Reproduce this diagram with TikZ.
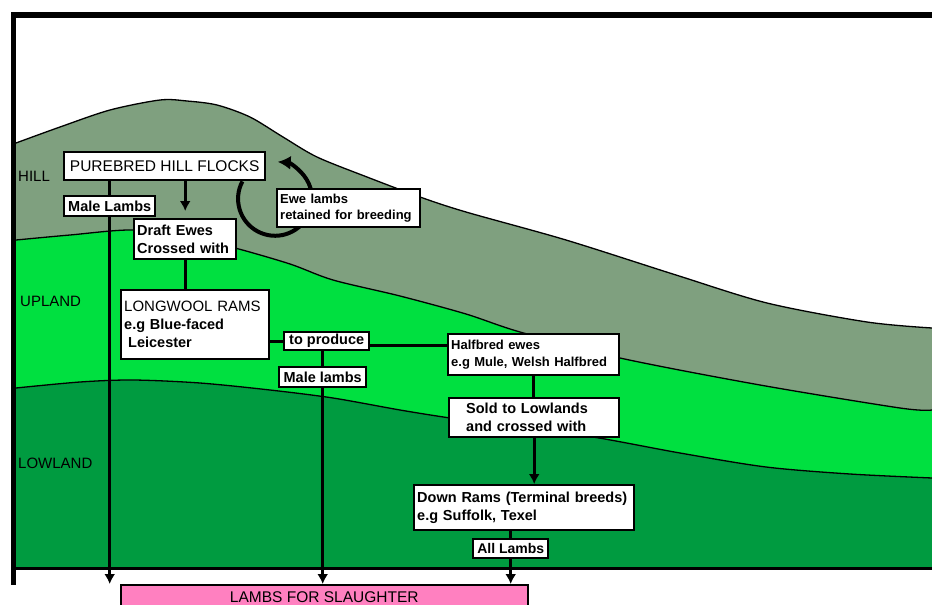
\documentclass[tikz,border=0pt]{standalone}
\usepackage{fontspec}
\setmainfont{Liberation Sans}
\usetikzlibrary{arrows,arrows.meta,positioning,calc}
\definecolor{hillgray}{RGB}{127,160,127}
\definecolor{upgreen}{RGB}{0,224,64}
\definecolor{lowgreen}{RGB}{0,155,64}
\definecolor{slpink}{RGB}{255,128,192}
\tikzstyle{box}=[draw,fill=white,line width=2.4pt,anchor=north west,align=left,inner xsep=3pt,inner ysep=1pt,font=\fontsize{14.5}{18}\selectfont\bfseries]
\tikzstyle{smallbox}=[box,font=\fontsize{13}{16.5}\selectfont\bfseries]
\tikzstyle{capsbox}=[box,font=\fontsize{15.5}{18}\selectfont]
\tikzstyle{zone}=[anchor=west,inner sep=0pt,font=\fontsize{15}{18}\selectfont]
\tikzstyle{ridge}=[line width=1.3pt]
\tikzstyle{link}=[line width=3.2pt]
\tikzstyle{flow}=[link,-{Latex[length=10pt,width=11pt]}]

\begin{document}
\begin{tikzpicture}[x=1pt,y=-1pt]
\useasboundingbox (0,0) rectangle (932,605);
\fill[white] (0,0) rectangle (932,605);

% land bands
\fill[hillgray] plot[smooth] coordinates {(16,143) (60,127) (110,110) (160,100) (187,101) (217,105) (250,117) (283,137) (317,157) (367,177) (420,197) (466,212) (566,240) (676,275) (767,303) (867,322) (932,328)} -- (932,568) -- (16,568) -- cycle;
\fill[upgreen] plot[smooth] coordinates {(16,240) (70,235) (133,230) (190,238) (235,248) (290,264) (333,280) (400,296) (466,314) (520,332) (620,358) (760,385) (900,408) (932,410)} -- (932,568) -- (16,568) -- cycle;
\fill[lowgreen] plot[smooth] coordinates {(16,388) (80,382) (133,380) (200,383) (270,390) (333,398) (400,410) (450,418) (520,428) (593,437) (680,453) (766,467) (850,474) (932,478)} -- (932,568) -- (16,568) -- cycle;
\draw[ridge] plot[smooth] coordinates {(16,143) (60,127) (110,110) (160,100) (187,101) (217,105) (250,117) (283,137) (317,157) (367,177) (420,197) (466,212) (566,240) (676,275) (767,303) (867,322) (932,328)};
\draw[ridge] plot[smooth] coordinates {(16,240) (70,235) (133,230) (190,238) (235,248) (290,264) (333,280) (400,296) (466,314) (520,332) (620,358) (760,385) (900,408) (932,410)};
\draw[ridge] plot[smooth] coordinates {(16,388) (80,382) (133,380) (200,383) (270,390) (333,398) (400,410) (450,418) (520,428) (593,437) (680,453) (766,467) (850,474) (932,478)};

% frame
\draw[line width=6pt] (11,15) -- (932,15);
\draw[line width=5pt] (13.5,12) -- (13.5,585);
\draw[line width=3pt] (12,568) -- (932,568);

% zones
\node[zone] (hill) at (18,176) {HILL};
\node[zone] (upland) at (20,301) {UPLAND};
\node[zone] (lowland) at (18,463) {LOWLAND};

% hill flock
\node[capsbox,minimum width=201pt,minimum height=28pt] (flocks) at (63,151) {PUREBRED HILL FLOCKS};
\draw[line width=4pt,-{Latex[length=13pt,width=14pt]}] ([xshift=-24pt]flocks.south east) arc[start angle=208,end angle=-86,radius=37];
\node[smallbox,text width=137pt,minimum height=38pt] (ewe) at (276,188) {Ewe lambs\\retained for breeding};
\node[box,minimum width=91pt,minimum height=20pt] (maleA) at (63,195) {Male Lambs};
\node[box,text width=96pt,minimum height=40pt] (draft) at (133,218) {Draft Ewes\\Crossed with};

% upland
\node[box,text width=142pt,minimum height=69pt] (longwool) at (120,289) {{\mdseries\fontsize{15}{18}\selectfont LONGWOOL RAMS}\\e.g Blue-faced\\\hspace*{4pt}Leicester};
\node[box,minimum width=85pt,minimum height=18pt] (toprod) at (283,331) {to produce};
\node[box,minimum width=87pt,minimum height=20pt] (maleB) at (278,366) {Male lambs};
\node[smallbox,text width=165pt,minimum height=41pt] (halfbred) at (447,333) {Halfbred ewes\\e.g Mule, Welsh Halfbred};

% lowland
\node[box,inner xsep=17pt,text width=136pt,minimum height=39pt] (sold) at (448,397) {Sold to Lowlands\\and crossed with};
\node[box,text width=214pt,minimum height=45pt] (downrams) at (413,484) {Down Rams (Terminal breeds)\\e.g Suffolk, Texel};
\node[box,minimum width=75pt,minimum height=19pt,font=\fontsize{14}{17}\selectfont\bfseries] (alllambs) at (472,538) {All Lambs};
\node[draw,fill=slpink,line width=1.6pt,anchor=north west,minimum width=407pt,minimum height=25pt,inner ysep=1pt,font=\fontsize{15.5}{17}\selectfont] (slaughter) at (120,584) {LAMBS FOR SLAUGHTER};

% flows
\draw[link] (maleA.north |- flocks.south) -- (maleA.north);
\draw[flow] (maleA.south) -- (maleA.south |- slaughter.north);
\draw[flow,shorten >=7pt] (draft.north |- flocks.south) -- (draft.north);
\draw[link] (draft.south) -- (draft.south |- longwool.north);
\draw[link] (toprod.west -| longwool.east) -- (toprod.west);
\draw[link] ([yshift=-4pt]toprod.east) -- ([yshift=-4pt]toprod.east -| halfbred.west);
\draw[link] (maleB.north |- toprod.south) -- (maleB.north);
\draw[flow] (maleB.south) -- (maleB.south |- slaughter.north);
\draw[link] (halfbred.south) -- (halfbred.south |- sold.north);
\draw[flow] (sold.south) -- (sold.south |- downrams.north);
\draw[link] (alllambs.north |- downrams.south) -- (alllambs.north);
\draw[flow] (alllambs.south) -- (alllambs.south |- slaughter.north);
\end{tikzpicture}
\end{document}
